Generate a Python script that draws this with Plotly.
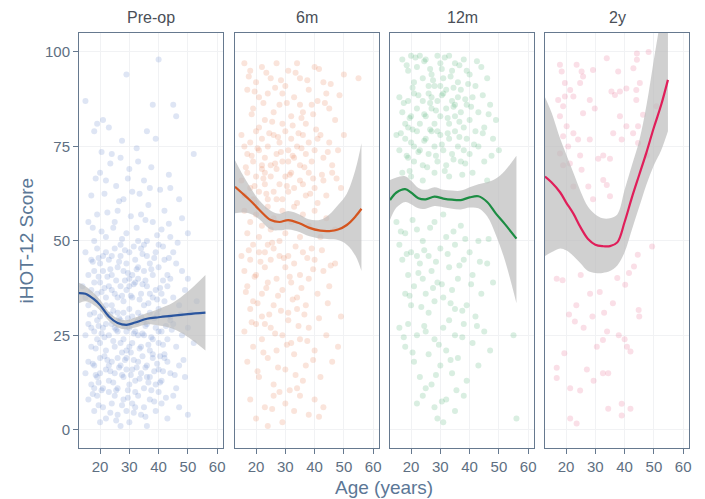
import plotly.graph_objects as go
from plotly.subplots import make_subplots

# ---------------------------------------------------------------
# Data: iHOT-12 score against age at each follow-up time point
# ---------------------------------------------------------------
panels = ["Pre-op", "6m", "12m", "2y"]

preop_points = [
    (15, 87), (19, 81), (21, 82), (18, 79), (23, 80), (29, 94), (40, 98), (38, 86), (45, 86), (46, 83),
    (36, 79), (39, 77), (52, 73), (24, 73), (27, 72), (33, 71), (30, 69), (35, 66), (37, 64), (20, 68),
    (22, 66), (17, 62), (44, 64), (47, 61), (42, 58), (28, 61), (31, 63), (26, 58), (19, 57), (34, 57),
    (38, 55), (48, 56), (16, 55), (25, 55), (41, 53), (50, 52), (29, 52), (22, 51), (33, 50), (36, 50),
    (44, 51), (18, 50),
    (15, 47), (17, 45), (19, 48), (20, 44), (21, 42), (22, 47), (23, 45), (24, 41), (25, 48), (26, 43),
    (27, 46), (28, 42), (29, 44), (30, 47), (31, 41), (32, 45), (33, 43), (34, 48), (35, 42), (36, 46),
    (37, 44), (38, 41), (39, 47), (40, 43), (42, 45), (43, 41), (45, 47), (46, 44), (48, 42), (50, 40),
    (18, 42), (24, 46), (30, 40), (35, 49), (16, 41), (27, 49), (40, 49), (21, 46), (33, 40), (44, 40),
    (14, 38), (15, 35), (16, 33), (17, 37), (18, 31), (19, 36), (20, 39), (21, 32), (22, 35), (23, 38),
    (24, 33), (25, 36), (26, 31), (27, 38), (28, 34), (29, 37), (30, 32), (31, 35), (32, 39), (33, 31),
    (34, 36), (35, 33), (36, 38), (37, 31), (38, 35), (39, 37), (40, 32), (41, 36), (42, 34), (43, 38),
    (44, 30), (45, 35), (47, 33), (49, 37), (51, 31), (53, 34), (20, 30), (26, 35), (30, 38), (34, 30),
    (18, 39), (24, 37), (31, 30), (37, 36), (22, 33), (28, 31),
    (15, 25), (16, 28), (17, 22), (18, 26), (19, 29), (20, 23), (21, 27), (22, 21), (23, 25), (24, 28),
    (25, 22), (26, 26), (27, 29), (28, 24), (29, 21), (30, 27), (31, 23), (32, 26), (33, 29), (34, 22),
    (35, 25), (36, 28), (37, 21), (38, 24), (39, 27), (40, 23), (41, 26), (42, 20), (43, 24), (45, 28),
    (46, 22), (48, 25), (50, 27), (52, 23), (19, 24), (25, 27), (30, 22), (35, 29), (40, 26), (22, 28),
    (27, 23), (33, 25), (38, 20), (17, 27), (29, 26), (44, 29),
    (15, 15), (16, 18), (17, 12), (18, 17), (19, 14), (20, 19), (21, 11), (22, 16), (23, 13), (24, 18),
    (25, 15), (26, 11), (27, 17), (28, 14), (29, 19), (30, 12), (31, 16), (32, 13), (33, 18), (34, 15),
    (35, 11), (36, 17), (37, 14), (38, 19), (39, 12), (40, 16), (41, 13), (43, 18), (44, 15), (46, 11),
    (47, 17), (49, 14), (20, 15), (26, 19), (32, 10), (36, 14), (23, 17), (29, 16), (18, 11), (42, 19),
    (16, 8), (18, 5), (19, 9), (21, 6), (22, 3), (24, 7), (25, 9), (26, 4), (28, 8), (29, 5),
    (30, 2), (31, 7), (33, 9), (34, 4), (35, 6), (36, 1), (37, 8), (39, 5), (41, 7), (43, 3),
    (45, 9), (47, 6), (50, 4), (27, 1), (32, 6), (40, 10), (23, 10), (20, 2),
    (17.5, 44.5), (19.5, 40.5), (21.5, 37.5), (23.5, 42.5), (25.5, 39.5), (27.5, 35.5), (29.5, 41.5),
    (31.5, 38.5), (33.5, 34.5), (35.5, 39.5), (37.5, 42.5), (39.5, 34.5), (41.5, 39.5), (43.5, 45.5),
    (18.5, 34.5), (20.5, 36.5), (22.5, 40.5), (24.5, 31.5), (26.5, 44.5), (28.5, 39.5), (30.5, 35.5),
    (32.5, 42.5), (34.5, 38.5), (36.5, 33.5), (38.5, 45.5), (40.5, 37.5), (16.5, 30.5), (19.5, 27.5),
    (21.5, 24.5), (23.5, 30.5), (25.5, 26.5), (27.5, 20.5), (29.5, 29.5), (31.5, 25.5), (33.5, 21.5),
    (35.5, 27.5), (37.5, 24.5), (39.5, 30.5), (41.5, 22.5), (44.5, 26.5), (47.5, 30.5), (18.5, 21.5),
    (20.5, 25.5), (22.5, 30.5), (24.5, 23.5), (26.5, 29.5), (28.5, 27.5), (30.5, 20.5), (32.5, 28.5),
    (34.5, 25.5), (36.5, 22.5), (38.5, 29.5), (40.5, 19.5), (42.5, 27.5), (17.5, 17.5), (19.5, 12.5),
    (21.5, 19.5), (23.5, 15.5), (25.5, 10.5), (27.5, 14.5), (29.5, 10.5), (31.5, 18.5), (33.5, 13.5),
    (35.5, 16.5), (37.5, 10.5), (39.5, 17.5), (41.5, 15.5), (45.5, 14.5), (48.5, 18.5), (18.5, 14.5),
    (20.5, 10.5), (22.5, 18.5), (24.5, 12.5), (26.5, 16.5), (28.5, 18.5), (30.5, 14.5), (32.5, 16.5),
    (34.5, 19.5), (36.5, 12.5), (38.5, 15.5), (40.5, 12.5), (19.5, 6.5), (23.5, 4.5), (27.5, 6.5),
    (31.5, 4.5), (35.5, 3.5), (38.5, 7.5), (42.5, 8.5), (25.5, 2.5), (17.5, 9.5), (29.5, 8.5),
    (20.5, 52.5), (24.5, 53.5), (27.5, 50.5), (30.5, 56.5), (32.5, 53.5), (35.5, 55.5), (39.5, 51.5),
    (43.5, 54.5), (17.5, 53.5), (26.5, 60.5), (36.5, 59.5), (22.5, 57.5), (46.5, 49.5), (28.5, 47.5),
    (31.5, 48.5), (19.5, 45.5), (41.5, 48.5), (34.5, 46.5),
    (21.5, 62.5), (25.5, 64.5), (29.5, 66.5), (33.5, 62.5), (40.5, 63.5), (18.5, 66.5), (23.5, 70.5),
    (32.5, 74.5), (37.5, 69.5), (43.5, 67.5), (27.5, 76.5), (20.5, 73.5),
]

m6_points = [
    (16, 97), (18, 95), (20, 92), (22, 96), (24, 89), (25, 93), (27, 97), (28, 86), (30, 91), (31, 95),
    (33, 88), (35, 93), (36, 84), (38, 90), (40, 96), (41, 87), (43, 92), (45, 85), (47, 82), (50, 94),
    (19, 85), (21, 88), (23, 82), (26, 84), (29, 81), (32, 83), (34, 97), (37, 81), (39, 86), (17, 90),
    (55, 93), (44, 89), (21, 80), (29, 89), (35, 86),
    (15, 78), (17, 73), (18, 76), (19, 71), (20, 79), (21, 74), (22, 77), (23, 72), (24, 75), (25, 70),
    (26, 78), (27, 73), (28, 76), (29, 71), (30, 79), (31, 74), (32, 77), (33, 72), (34, 75), (35, 70),
    (36, 78), (37, 73), (38, 76), (39, 71), (40, 74), (42, 78), (43, 72), (45, 76), (46, 70), (48, 74),
    (50, 78), (22, 70), (31, 71), (16, 75), (41, 77),
    (15, 66), (16, 62), (17, 68), (18, 64), (19, 61), (20, 67), (21, 63), (22, 69), (23, 65), (24, 61),
    (25, 67), (26, 63), (27, 69), (28, 65), (29, 61), (30, 67), (31, 63), (32, 68), (33, 64), (34, 60),
    (35, 66), (37, 62), (38, 68), (40, 64), (41, 60), (43, 66), (44, 62), (46, 68), (49, 64), (20, 60),
    (27, 61), (36, 65), (23, 68),
    (16, 58), (17, 52), (18, 55), (20, 57), (21, 51), (22, 54), (24, 59), (25, 53), (26, 56), (28, 50),
    (29, 58), (30, 52), (32, 55), (33, 59), (35, 51), (36, 57), (38, 54), (40, 58), (42, 51), (44, 56),
    (47, 53), (19, 49), (23, 47),
    (15, 46), (16, 42), (17, 38), (18, 45), (19, 34), (20, 41), (21, 47), (22, 36), (23, 43), (24, 39),
    (25, 45), (26, 33), (27, 40), (28, 46), (29, 37), (30, 43), (31, 31), (32, 39), (33, 44), (34, 35),
    (35, 41), (36, 47), (37, 33), (38, 40), (40, 45), (41, 36), (43, 42), (45, 38), (47, 44), (49, 30),
    (18, 32), (26, 48), (34, 32), (24, 49), (39, 48), (31, 46), (22, 30),
    (16, 26), (17, 18), (19, 22), (20, 28), (21, 14), (22, 24), (24, 19), (25, 27), (26, 12), (27, 21),
    (29, 25), (30, 16), (31, 29), (33, 20), (34, 11), (35, 24), (37, 17), (38, 27), (40, 21), (42, 14),
    (44, 25), (46, 18), (48, 22), (23, 28), (28, 10), (36, 13), (32, 23),
    (18, 8), (20, 3), (23, 6), (26, 9), (29, 2), (30, 7), (33, 5), (35, 9), (38, 4), (40, 8),
    (43, 6), (24, 1),
    (17.5, 93.5), (19.5, 89.5), (23.5, 94.5), (26.5, 90.5), (30.5, 86.5), (33.5, 94.5), (37.5, 92.5),
    (41.5, 95.5), (45.5, 91.5), (18.5, 83.5), (22.5, 86.5), (25.5, 81.5), (28.5, 92.5), (32.5, 80.5),
    (35.5, 82.5), (39.5, 83.5), (43.5, 86.5), (48.5, 88.5),
    (16.5, 69.5), (18.5, 72.5), (20.5, 74.5), (22.5, 66.5), (24.5, 78.5), (26.5, 70.5), (28.5, 73.5),
    (30.5, 64.5), (32.5, 72.5), (34.5, 78.5), (36.5, 69.5), (38.5, 62.5), (40.5, 79.5), (42.5, 67.5),
    (44.5, 73.5), (47.5, 66.5), (19.5, 64.5), (23.5, 62.5), (27.5, 77.5), (31.5, 67.5), (35.5, 74.5),
    (39.5, 66.5),
    (17.5, 47.5), (19.5, 40.5), (21.5, 44.5), (23.5, 37.5), (25.5, 49.5), (27.5, 35.5), (29.5, 45.5),
    (31.5, 40.5), (33.5, 48.5), (35.5, 37.5), (37.5, 45.5), (39.5, 42.5), (42.5, 47.5), (45.5, 43.5),
    (18.5, 28.5), (20.5, 33.5), (22.5, 20.5), (24.5, 30.5), (26.5, 25.5), (28.5, 31.5), (30.5, 22.5),
    (32.5, 34.5), (34.5, 27.5), (36.5, 30.5), (39.5, 18.5), (41.5, 29.5), (44.5, 33.5), (16.5, 36.5),
    (20.5, 15.5), (27.5, 16.5), (33.5, 14.5), (37.5, 23.5), (25.5, 5.5), (31.5, 10.5), (41.5, 3.5),
]

m12_points = [
    (17, 98), (19, 95), (20, 99), (22, 96), (24, 93), (25, 98), (27, 94), (28, 91), (30, 97), (31, 93),
    (33, 99), (34, 95), (36, 92), (38, 98), (40, 94), (42, 91), (44, 96), (46, 93), (21, 92), (26, 91),
    (29, 99), (32, 90), (35, 97), (37, 90), (39, 95), (23, 99), (30, 91),
    (16, 88), (17, 84), (18, 81), (19, 87), (20, 83), (21, 89), (22, 85), (23, 81), (24, 87), (25, 83),
    (26, 89), (27, 85), (28, 81), (29, 87), (30, 83), (31, 89), (32, 85), (33, 81), (34, 87), (35, 83),
    (36, 88), (37, 84), (38, 80), (39, 86), (40, 82), (41, 88), (43, 84), (45, 80), (47, 86), (49, 82),
    (19, 80), (27, 88), (35, 86),
    (15, 78), (16, 74), (18, 77), (19, 72), (20, 76), (21, 71), (22, 79), (23, 74), (24, 70), (25, 77),
    (26, 73), (27, 79), (28, 75), (29, 71), (30, 78), (31, 74), (32, 70), (33, 77), (34, 73), (35, 79),
    (36, 75), (37, 71), (39, 77), (40, 73), (42, 79), (43, 75), (45, 71), (48, 77), (50, 74), (21, 75),
    (29, 79), (38, 74),
    (17, 68), (20, 67), (24, 66), (28, 68), (33, 67), (41, 68), (46, 66),
    (15, 55), (16, 49), (17, 45), (18, 52), (19, 41), (20, 47), (21, 38), (22, 53), (23, 44), (24, 50),
    (25, 36), (26, 46), (27, 42), (28, 55), (29, 39), (30, 48), (31, 35), (32, 51), (33, 43), (34, 37),
    (35, 49), (36, 40), (37, 54), (38, 45), (39, 33), (40, 47), (41, 41), (43, 50), (44, 36), (46, 44),
    (48, 39), (20, 33), (26, 31), (31, 57), (35, 32), (42, 30), (18, 36), (24, 40), (28, 34), (22, 46),
    (16, 27), (18, 22), (19, 28), (21, 18), (22, 25), (23, 14), (25, 26), (26, 20), (27, 12), (28, 24),
    (30, 17), (31, 27), (32, 21), (34, 15), (35, 25), (36, 19), (38, 28), (39, 13), (41, 23), (43, 17),
    (45, 26), (47, 21), (25, 11), (33, 29), (55, 25),
    (24, 9), (28, 6), (31, 2), (32, 8), (35, 5), (38, 9), (29, 3), (56, 3), (22, 7),
    (18.5, 96.5), (21.5, 98.5), (24.5, 97.5), (27.5, 92.5), (30.5, 95.5), (33.5, 93.5), (36.5, 96.5),
    (39.5, 91.5), (42.5, 97.5), (20.5, 90.5), (26.5, 95.5), (31.5, 98.5), (34.5, 90.5), (17.5, 86.5),
    (19.5, 82.5), (22.5, 88.5), (24.5, 83.5), (26.5, 86.5), (28.5, 84.5), (30.5, 88.5), (32.5, 82.5),
    (34.5, 85.5), (36.5, 81.5), (38.5, 87.5), (40.5, 85.5), (44.5, 88.5), (46.5, 83.5), (16.5, 78.5),
    (18.5, 72.5), (20.5, 79.5), (22.5, 73.5), (24.5, 76.5), (26.5, 79.5), (28.5, 72.5), (30.5, 75.5),
    (32.5, 78.5), (34.5, 71.5), (36.5, 77.5), (38.5, 70.5), (41.5, 75.5), (44.5, 78.5), (47.5, 72.5),
    (19.5, 68.5), (25.5, 69.5), (31.5, 68.5), (37.5, 67.5),
    (16.5, 52.5), (18.5, 46.5), (20.5, 55.5), (22.5, 41.5), (24.5, 47.5), (26.5, 53.5), (28.5, 44.5),
    (30.5, 38.5), (32.5, 46.5), (34.5, 52.5), (36.5, 43.5), (38.5, 50.5), (40.5, 38.5), (43.5, 44.5),
    (46.5, 50.5), (19.5, 35.5), (23.5, 32.5), (27.5, 37.5), (33.5, 33.5), (37.5, 31.5), (17.5, 24.5),
    (20.5, 20.5), (24.5, 27.5), (29.5, 22.5), (33.5, 18.5), (37.5, 24.5), (42.5, 27.5), (28.5, 14.5),
    (35.5, 10.5), (30.5, 7.5),
]

y2_points = [
    (17.9, 96.6), (23.6, 96.6), (25.3, 94.8), (18.5, 94.8), (19.6, 91.8), (24.8, 91.8), (17.3, 87.3),
    (19.6, 88.2), (25.8, 93.5), (29.2, 95.2), (33.9, 98.3), (44.2, 99.6), (48.2, 100), (44.2, 97.9),
    (37.8, 94.8), (43.0, 95.7), (21.4, 89.9), (22.5, 88.2), (19.0, 85.6), (28.1, 87.3), (25.8, 83.8),
    (29.8, 85.0), (35.5, 89.5), (36.7, 88.6), (38.4, 89.5), (40.6, 90.3), (44.0, 89.9), (45.2, 91.8),
    (50.9, 85.6), (46.3, 83.4), (44.0, 87.3), (17.9, 83.0), (20.2, 80.3), (22.5, 78.5), (19.0, 77.7),
    (24.1, 76.8), (20.7, 75.0), (24.8, 72.6), (19.0, 70.0), (17.9, 73.1), (21.3, 70.5), (25.3, 68.8),
    (22.5, 64.4), (27.6, 64.4), (32.7, 72.6), (35.0, 71.7), (32.7, 66.1), (33.9, 64.8), (35.0, 61.8),
    (29.2, 61.0), (38.4, 83.0), (40.6, 80.3), (42.9, 78.5), (44.6, 75.9), (39.0, 76.8), (36.1, 78.5),
    (28.1, 76.8), (31.0, 71.7), (47.6, 72.6), (44.6, 80.3),
    (16.8, 40.0), (18.8, 39.6), (25.0, 41.0), (28.2, 36.0), (23.0, 28.7), (33.0, 31.0), (34.0, 26.0),
    (38.0, 25.0), (40.0, 24.0), (32.6, 23.8), (30.5, 22.0), (40.8, 22.0), (42.0, 20.7), (19.4, 20.3),
    (16.8, 16.4), (27.1, 16.0), (16.8, 13.7), (21.4, 11.0), (24.8, 10.4), (29.4, 13.0), (32.6, 15.0),
    (34.4, 15.0), (34.4, 5.6), (39.0, 6.9), (39.0, 3.8), (42.0, 5.6), (21.4, 3.0), (23.6, 1.7),
    (44.8, 31.7), (45.0, 30.0), (44.5, 46.3), (43.2, 43.2), (41.5, 41.5), (49.4, 48.5), (40.2, 38.4),
    (37.5, 40.2), (21.0, 30.5), (23.5, 33.0), (26.0, 27.0), (29.0, 30.0), (36.0, 33.5), (31.5, 36.5),
]

# Loess fits with 95% confidence limits, by age
preop_age = [12.8, 15, 18, 20, 23, 26, 29, 32, 36, 40, 45, 50, 56]
preop_fit = [36.2, 36.0, 34.5, 33.0, 30.0, 28.3, 27.8, 28.4, 29.4, 29.8, 30.2, 30.6, 31.0]
preop_lo = [33.5, 34.0, 32.9, 31.6, 28.8, 27.1, 26.6, 27.1, 27.9, 27.6, 26.7, 24.6, 21.0]
preop_hi = [38.9, 38.0, 36.1, 34.4, 31.2, 29.5, 29.0, 29.7, 30.9, 32.0, 33.7, 36.6, 41.0]

m6_age = [12.8, 15, 18, 21, 25, 28, 31, 35, 38, 42, 45, 48, 51, 54, 56]
m6_fit = [64.3, 62.8, 60.7, 58.3, 55.5, 55.0, 55.5, 54.6, 53.5, 52.7, 52.6, 53.0, 54.2, 56.5, 58.5]
m6_lo = [57.3, 57.5, 57.2, 55.8, 53.0, 52.8, 53.0, 52.3, 51.3, 50.6, 50.4, 50.2, 49.0, 46.0, 42.0]
m6_hi = [71.3, 68.1, 64.2, 60.8, 58.0, 57.2, 57.9, 56.9, 55.7, 55.6, 57.0, 59.5, 62.5, 69.0, 75.8]

m12_age = [12.8, 15, 18, 20, 22.5, 25, 28, 31, 34, 37, 40, 43, 46, 49, 52, 56]
m12_fit = [60.8, 62.8, 63.7, 62.8, 61.3, 61.0, 61.7, 61.2, 60.9, 60.8, 61.5, 61.8, 60.3, 57.2, 54.5, 50.6]
m12_lo = [55.5, 58.8, 60.3, 59.7, 58.6, 58.5, 59.2, 58.9, 58.5, 58.3, 58.8, 58.6, 56.5, 51.5, 45.0, 33.5]
m12_hi = [66.1, 66.8, 67.1, 65.9, 64.0, 63.5, 64.2, 63.5, 63.3, 63.3, 64.2, 65.0, 65.5, 66.5, 68.5, 72.5]

y2_age = [12.8, 15, 18, 20, 22.5, 25, 27.5, 30, 32.5, 35, 37.5, 40, 42.5, 45, 47.5, 50, 52.5, 54.8]
y2_fit = [67.0, 65.5, 62.8, 60.2, 57.2, 53.5, 50.5, 49.0, 48.6, 48.6, 49.6, 55.0, 61.5, 67.5, 73.5, 80.0, 86.0, 92.6]
y2_lo = [46.0, 47.0, 48.0, 47.5, 46.0, 44.0, 42.0, 41.5, 41.5, 42.0, 43.5, 47.0, 53.0, 59.0, 65.0, 70.0, 74.0, 79.0]
y2_hi = [88.0, 84.0, 77.0, 73.0, 68.0, 63.0, 59.0, 57.0, 56.0, 56.0, 57.0, 63.5, 70.0, 76.5, 86.0, 98.0, 110.0, 125.0]

x_ticks = [20, 30, 40, 50, 60]
y_ticks = [0, 25, 50, 75, 100]

# ---------------------------------------------------------------
# Styling
# ---------------------------------------------------------------
point_colors = ["#5a7ec6", "#e5794c", "#3fa86a", "#e85d88"]
line_colors = ["#2a559e", "#d4551f", "#1c8d43", "#e01e5a"]
band_color = "rgba(185,185,185,0.68)"
axis_color = "#66798f"
tick_font = dict(family="Liberation Sans, Arial, sans-serif", size=15, color="#5e6f82")
title_font = dict(family="Liberation Sans, Arial, sans-serif", size=19, color="#5b7796")
strip_font = dict(family="Liberation Sans, Arial, sans-serif", size=16, color="#4a4f57")

series = [
    (preop_points, preop_age, preop_fit, preop_lo, preop_hi),
    (m6_points, m6_age, m6_fit, m6_lo, m6_hi),
    (m12_points, m12_age, m12_fit, m12_lo, m12_hi),
    (y2_points, y2_age, y2_fit, y2_lo, y2_hi),
]

fig = make_subplots(rows=1, cols=4, shared_yaxes=True, horizontal_spacing=0.02)

for i, (pts, age, fit, lo, hi) in enumerate(series):
    col = i + 1
    fig.add_trace(go.Scatter(
        x=[p[0] for p in pts], y=[p[1] for p in pts], mode="markers",
        marker=dict(size=6, color=point_colors[i], opacity=0.2, line=dict(width=0)),
        hoverinfo="skip", showlegend=False), row=1, col=col)
    # confidence band: upper edge, then lower edge filled up to it
    fig.add_trace(go.Scatter(
        x=age, y=hi, mode="lines",
        line=dict(width=0, color=band_color, shape="spline", smoothing=1.0),
        hoverinfo="skip", showlegend=False), row=1, col=col)
    fig.add_trace(go.Scatter(
        x=age, y=lo, mode="lines", fill="tonexty", fillcolor=band_color,
        line=dict(width=0, color=band_color, shape="spline", smoothing=1.0),
        hoverinfo="skip", showlegend=False), row=1, col=col)
    fig.add_trace(go.Scatter(
        x=age, y=fit, mode="lines",
        line=dict(color=line_colors[i], width=2.2, shape="spline", smoothing=1.0),
        hoverinfo="skip", showlegend=False), row=1, col=col)

# panel placement in pixels (left, right) within a 705 px wide canvas
W, H = 705, 499
ML, MR, MT, MB = 79, 16, 33, 51
panel_px = [(79, 223), (235, 379), (390, 534), (545, 689)]
plot_w = W - ML - MR

for i, (x0, x1) in enumerate(panel_px):
    key = "xaxis" if i == 0 else f"xaxis{i + 1}"
    fig.layout[key].update(
        domain=[(x0 - ML) / plot_w, (x1 - ML) / plot_w],
        range=[12.8, 62.0], tickvals=x_ticks, ticks="outside", ticklen=5,
        tickcolor=axis_color, tickwidth=1, tickfont=tick_font,
        showline=True, linecolor=axis_color, linewidth=1, mirror=True,
        showgrid=True, gridcolor="#f1f2f4", gridwidth=1, zeroline=False,
    )
    ykey = "yaxis" if i == 0 else f"yaxis{i + 1}"
    fig.layout[ykey].update(
        range=[-4.8, 105], tickvals=y_ticks,
        ticks="outside" if i == 0 else "", ticklen=5, tickcolor=axis_color,
        tickfont=tick_font, showticklabels=(i == 0),
        showline=True, linecolor=axis_color, linewidth=1, mirror=True,
        showgrid=True, gridcolor="#f1f2f4", gridwidth=1, zeroline=False,
    )
    fig.add_annotation(
        text=panels[i], xref="paper", yref="paper",
        x=((x0 + x1) / 2 - ML) / plot_w, y=1.0, yshift=16,
        xanchor="center", yanchor="middle", showarrow=False, font=strip_font,
    )

fig.add_annotation(
    text="Age (years)", xref="paper", yref="paper",
    x=(384 - ML) / plot_w, y=0, yshift=-39, xanchor="center", yanchor="middle",
    showarrow=False, font=title_font,
)
fig.add_annotation(
    text="iHOT-12 Score", xref="paper", yref="paper",
    x=0, xshift=-53, y=0.5, textangle=-90, xanchor="center", yanchor="middle",
    showarrow=False, font=title_font,
)

fig.update_layout(
    width=W, height=H,
    margin=dict(l=ML, r=MR, t=MT, b=MB),
    paper_bgcolor="white", plot_bgcolor="white",
    showlegend=False,
)

fig.write_html("out.html")
